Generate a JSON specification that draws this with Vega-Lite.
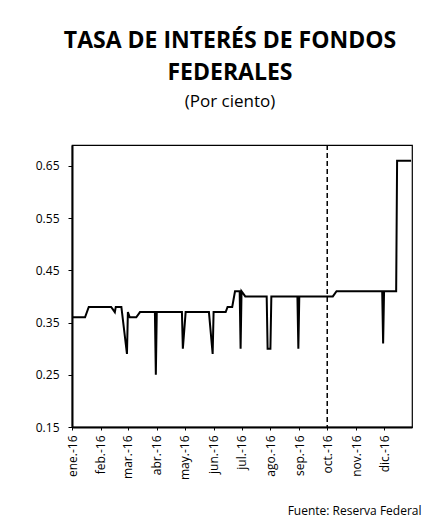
{
  "$schema": "https://vega.github.io/schema/vega-lite/v6.json",
  "width": 340,
  "height": 282,
  "autosize": {"type": "none"},
  "padding": {"left": 72, "top": 145, "right": 11, "bottom": 91},
  "background": "#ffffff",
  "config": {
    "view": {"stroke": "#000000", "strokeWidth": 1.2},
    "font": "Open Sans"
  },
  "title": {
    "text": ["TASA DE INTERÉS DE FONDOS", "FEDERALES"],
    "subtitle": "(Por ciento)",
    "font": "Open Sans",
    "fontSize": 23,
    "fontWeight": "bold",
    "lineHeight": 32,
    "color": "#000000",
    "subtitleFont": "Open Sans",
    "subtitleFontSize": 17,
    "subtitleFontWeight": "normal",
    "subtitleColor": "#000000",
    "subtitlePadding": 9,
    "anchor": "middle",
    "frame": "group",
    "dx": -12,
    "offset": 34
  },
  "layer": [
    {
      "data": {
        "values": [
          {"date": "2016-01-01", "rate": 0.36},
          {"date": "2016-01-15", "rate": 0.36},
          {"date": "2016-01-19", "rate": 0.38},
          {"date": "2016-02-12", "rate": 0.38},
          {"date": "2016-02-16", "rate": 0.37},
          {"date": "2016-02-17", "rate": 0.38},
          {"date": "2016-02-23", "rate": 0.38},
          {"date": "2016-02-29", "rate": 0.29},
          {"date": "2016-03-01", "rate": 0.37},
          {"date": "2016-03-03", "rate": 0.36},
          {"date": "2016-03-10", "rate": 0.36},
          {"date": "2016-03-14", "rate": 0.37},
          {"date": "2016-03-30", "rate": 0.37},
          {"date": "2016-03-31", "rate": 0.25},
          {"date": "2016-04-01", "rate": 0.37},
          {"date": "2016-04-28", "rate": 0.37},
          {"date": "2016-04-29", "rate": 0.30},
          {"date": "2016-05-02", "rate": 0.37},
          {"date": "2016-05-27", "rate": 0.37},
          {"date": "2016-05-31", "rate": 0.29},
          {"date": "2016-06-01", "rate": 0.37},
          {"date": "2016-06-14", "rate": 0.37},
          {"date": "2016-06-16", "rate": 0.38},
          {"date": "2016-06-21", "rate": 0.38},
          {"date": "2016-06-24", "rate": 0.41},
          {"date": "2016-06-29", "rate": 0.41},
          {"date": "2016-06-30", "rate": 0.30},
          {"date": "2016-07-01", "rate": 0.41},
          {"date": "2016-07-05", "rate": 0.40},
          {"date": "2016-07-28", "rate": 0.40},
          {"date": "2016-07-29", "rate": 0.30},
          {"date": "2016-08-01", "rate": 0.30},
          {"date": "2016-08-02", "rate": 0.40},
          {"date": "2016-08-30", "rate": 0.40},
          {"date": "2016-08-31", "rate": 0.30},
          {"date": "2016-09-01", "rate": 0.40},
          {"date": "2016-10-07", "rate": 0.40},
          {"date": "2016-10-11", "rate": 0.41},
          {"date": "2016-11-29", "rate": 0.41},
          {"date": "2016-11-30", "rate": 0.31},
          {"date": "2016-12-01", "rate": 0.41},
          {"date": "2016-12-14", "rate": 0.41},
          {"date": "2016-12-15", "rate": 0.66},
          {"date": "2016-12-30", "rate": 0.66}
        ]
      },
      "mark": {"type": "line", "color": "#000000", "strokeWidth": 2, "interpolate": "linear"},
      "encoding": {
        "x": {
          "field": "date",
          "type": "temporal",
          "scale": {
            "type": "utc",
            "domain": [
              {"year": 2016, "month": 1, "date": 1, "utc": true},
              {"year": 2016, "month": 12, "date": 31, "utc": true}
            ]
          },
          "axis": {
            "title": "Fuente: Reserva Federal",
            "titleFont": "Open Sans",
            "titleFontSize": 12,
            "titleFontWeight": "normal",
            "titleColor": "#000000",
            "titleAnchor": "end",
            "titleAlign": "right",
            "titleX": 349,
            "titleY": 83,
            "titleBaseline": "middle",
            "tickCount": {"interval": "month", "step": 1},
            "labelExpr": "['ene.','feb.','mar.','abr.','may.','jun.','jul.','ago.','sep.','oct.','nov.','dic.'][utcmonth(datum.value)] + '-16'",
            "labelAngle": -90,
            "labelAlign": "right",
            "labelBaseline": "middle",
            "labelFont": "Open Sans",
            "labelFontSize": 12,
            "labelColor": "#000000",
            "labelPadding": 5,
            "labelOverlap": false,
            "labelFlush": false,
            "grid": false,
            "domainColor": "#000000",
            "domainWidth": 2,
            "tickColor": "#000000",
            "tickSize": 3
          }
        },
        "y": {
          "field": "rate",
          "type": "quantitative",
          "scale": {"domain": [0.15, 0.69], "nice": false, "zero": false},
          "axis": {
            "title": null,
            "values": [0.15, 0.25, 0.35, 0.45, 0.55, 0.65],
            "format": ".2f",
            "labelFont": "Open Sans",
            "labelFontSize": 12,
            "labelColor": "#000000",
            "labelPadding": 9,
            "grid": false,
            "domainColor": "#000000",
            "domainWidth": 2,
            "tickColor": "#000000",
            "tickSize": 4
          }
        }
      }
    },
    {
      "data": {"values": [{"date": "2016-10-01"}]},
      "mark": {"type": "rule", "color": "#000000", "strokeWidth": 1.5, "strokeDash": [5, 3]},
      "encoding": {
        "x": {"field": "date", "type": "temporal"}
      }
    }
  ]
}
